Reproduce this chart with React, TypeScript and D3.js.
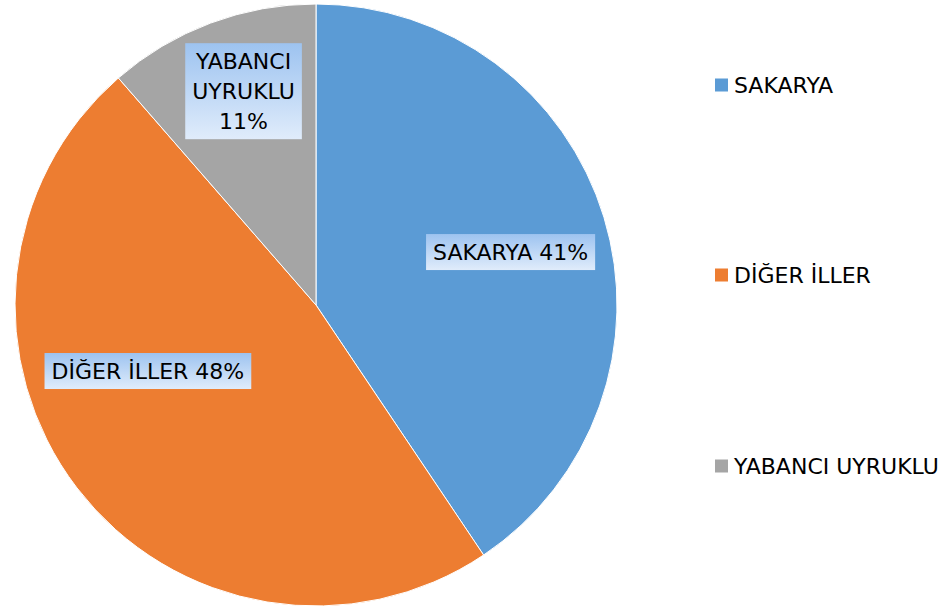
import React, { useEffect, useRef } from "react";
import * as d3 from "d3";

const categories = ["SAKARYA", "DİĞER İLLER", "YABANCI UYRUKLU"];
const values = [40.6, 48.0, 11.4];
const colors = ["#5B9BD5", "#ED7D31", "#A5A5A5"];
// layout of data labels (radius fraction, angle shift in degrees, wrap lines)
const labelRadius = [0.67, 0.6, 0.75];
const labelAngleShift = [1.7, 16, 1.8];
const labelWrap = [false, false, true];

const W = 943;
const H = 606;
const cx = 316;
const cy = 305;
const R = 301;
const FONT = "Tahoma, 'DejaVu Sans', Verdana, sans-serif";
const FS = 22;

export default function App() {
  const ref = useRef<SVGSVGElement>(null);
  useEffect(() => {
    const svg = d3.select(ref.current);
    svg.selectAll("*").remove();

    const defs = svg.append("defs");
    const grad = defs
      .append("linearGradient")
      .attr("id", "lblGrad")
      .attr("x1", 0)
      .attr("y1", 0)
      .attr("x2", 0)
      .attr("y2", 1);
    grad.append("stop").attr("offset", "0%").attr("stop-color", "#9DC3F0");
    grad.append("stop").attr("offset", "100%").attr("stop-color", "#E0ECFB");

    const total = d3.sum(values);
    const data = categories.map((c, i) => ({ name: c, value: values[i], i }));
    const pie = d3
      .pie<any>()
      .sort(null)
      .value((d) => d.value)
      .startAngle(0)
      .endAngle(2 * Math.PI);
    const arcs = pie(data);
    const arc = d3.arc<any>().innerRadius(0).outerRadius(R);

    const g = svg.append("g").attr("transform", `translate(${cx},${cy})`);
    g.selectAll("path.slice")
      .data(arcs)
      .enter()
      .append("path")
      .attr("class", "slice")
      .attr("d", arc as any)
      .attr("fill", (d: any) => colors[d.data.i])
      .attr("stroke", "#ffffff")
      .attr("stroke-width", 1);

    // data labels
    arcs.forEach((a: any) => {
      const i = a.data.i;
      const pct = Math.round((a.data.value / total) * 100) + "%";
      const mid = (a.startAngle + a.endAngle) / 2 + (labelAngleShift[i] * Math.PI) / 180;
      const r = R * labelRadius[i];
      const lx = Math.sin(mid) * r;
      const ly = -Math.cos(mid) * r;
      const lines = labelWrap[i] ? [...a.data.name.split(" "), pct] : [a.data.name + " " + pct];
      const lg = g.append("g").attr("transform", `translate(${lx},${ly})`);
      const rect = lg.append("rect").attr("fill", "url(#lblGrad)");
      const lh = 30;
      const t = lg
        .append("text")
        .attr("font-family", FONT)
        .attr("font-size", FS)
        .attr("fill", "#000")
        .attr("text-anchor", "middle");
      lines.forEach((ln: string, k: number) => {
        t.append("tspan")
          .attr("x", 0)
          .attr("y", (k - (lines.length - 1) / 2) * lh)
          .attr("dy", "0.35em")
          .text(ln);
      });
      const bb = (t.node() as SVGTextElement).getBBox();
      const padX = 7;
      const h = lines.length * lh + 6;
      rect
        .attr("x", bb.x - padX)
        .attr("width", bb.width + 2 * padX)
        .attr("y", -h / 2)
        .attr("height", h);
    });

    // legend
    const legendY = [85, 275, 466];
    const lgd = svg.append("g");
    categories.forEach((c, i) => {
      lgd
        .append("rect")
        .attr("x", 715)
        .attr("y", legendY[i] - 6.5)
        .attr("width", 13)
        .attr("height", 13)
        .attr("fill", colors[i]);
      lgd
        .append("text")
        .attr("x", 734)
        .attr("y", legendY[i])
        .attr("dy", "0.35em")
        .attr("font-family", FONT)
        .attr("font-size", FS)
        .attr("fill", "#000")
        .text(c);
    });
  }, []);

  return (
    <svg
      ref={ref}
      width={W}
      height={H}
      style={{ position: "absolute", left: 0, top: 0, background: "#fff" }}
    />
  );
}
